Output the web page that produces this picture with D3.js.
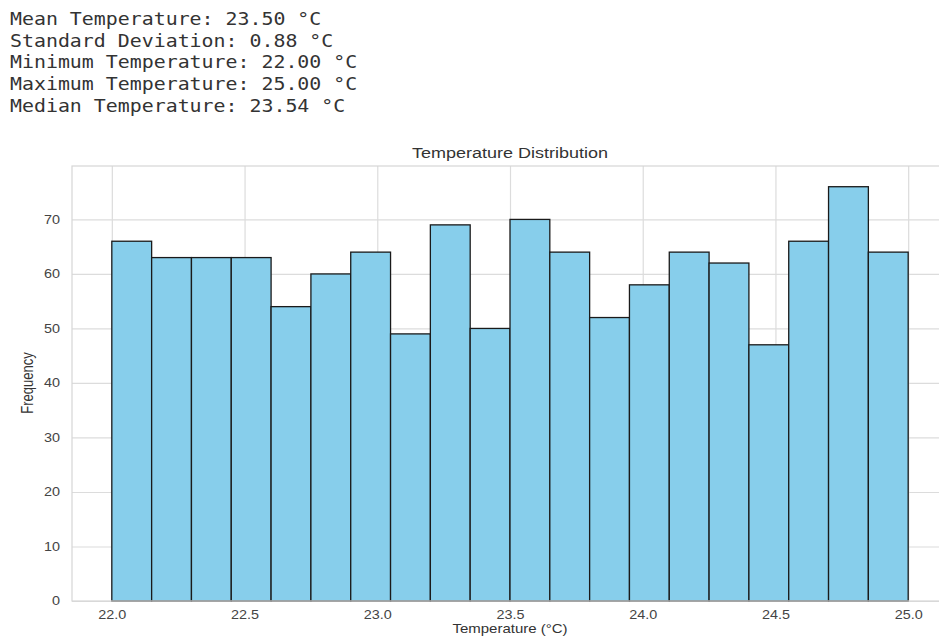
<!DOCTYPE html>
<html>
<head>
<meta charset="utf-8">
<script src="https://cdn.jsdelivr.net/npm/d3@7"></script>
<style>
  body { margin: 0; background: #fff; }
  text { font-family: "Liberation Sans", Arial, sans-serif; }
</style>
</head>
<body>
<div id="chart"></div>
<script>
// summary lines printed above the plot
const statLines = [
  "Mean Temperature: 23.50 °C",
  "Standard Deviation: 0.88 °C",
  "Minimum Temperature: 22.00 °C",
  "Maximum Temperature: 25.00 °C",
  "Median Temperature: 23.54 °C"
];

// histogram: 20 bins from 22.0 to 25.0
const binStart = 22.0;
const binEnd = 25.0;
const counts = [66, 63, 63, 63, 54, 60, 64, 49, 69, 50, 70, 64, 52, 58, 64, 62, 47, 66, 76, 64];
const xTicks = [22.0, 22.5, 23.0, 23.5, 24.0, 24.5, 25.0];
const yTicks = [0, 10, 20, 30, 40, 50, 60, 70];

const W = 939, H = 637;
const margin = { top: 166, right: -9, bottom: 36, left: 72 },
  width = W - margin.left - margin.right,
  height = H - margin.top - margin.bottom;

const stretch = 1.2; // the source image is a bit wider than tall

const root = d3.select("#chart").append("svg")
  .attr("width", W)
  .attr("height", H);

// header text block
const head = root.append("g").attr("transform", "scale(1.17,1)");
head.selectAll("text")
  .data(statLines)
  .join("text")
  .attr("x", 10 / 1.17)
  .attr("y", (d, i) => 25 + i * 21.7)
  .style("font-family", "'DejaVu Sans Mono', 'Liberation Mono', monospace")
  .style("font-size", "17px")
  .attr("fill", "#333")
  .text(d => d);

const svg = root.append("g")
  .attr("transform", `translate(${margin.left}, ${margin.top})`);

const binW = (binEnd - binStart) / counts.length;
const pad = (binEnd - binStart) * 0.05;
const x = d3.scaleLinear().domain([binStart - pad, binEnd + pad]).range([0, width]);
const y = d3.scaleLinear().domain([0, d3.max(counts) * 1.05]).range([height, 0]);

// grid
svg.append("g")
  .attr("transform", `translate(0, ${height})`)
  .call(d3.axisBottom(x).tickValues(xTicks).tickSize(-height).tickFormat(""))
  .call(g => g.select(".domain").remove())
  .call(g => g.selectAll("line").attr("stroke", "#dcdcdc").attr("stroke-width", 1.2));
svg.append("g")
  .call(d3.axisLeft(y).tickValues(yTicks).tickSize(-width).tickFormat(""))
  .call(g => g.select(".domain").remove())
  .call(g => g.selectAll("line").attr("stroke", "#dcdcdc").attr("stroke-width", 1.2));

// bars
svg.append("g")
  .selectAll("rect")
  .data(counts)
  .join("rect")
  .attr("x", (d, i) => x(binStart + i * binW))
  .attr("y", d => y(d))
  .attr("width", (d, i) => x(binStart + (i + 1) * binW) - x(binStart + i * binW))
  .attr("height", d => height - y(d))
  .attr("fill", "#87ceeb")
  .attr("stroke", "#1a1a1a")
  .attr("stroke-width", 1.3);

// spines
svg.append("rect")
  .attr("width", width)
  .attr("height", height)
  .attr("fill", "none")
  .attr("stroke", "#d6d6d6")
  .attr("stroke-width", 1.2);

// tick labels
svg.append("g")
  .attr("transform", `translate(0, ${height})`)
  .call(d3.axisBottom(x).tickValues(xTicks).tickSize(0).tickPadding(9).tickFormat(d3.format(".1f")))
  .call(g => g.select(".domain").remove())
  .call(g => g.selectAll("text")
    .attr("fill", "#444")
    .style("font-size", "12px")
    .attr("transform", `scale(${stretch},1)`));

svg.append("g")
  .call(d3.axisLeft(y).tickValues(yTicks).tickSize(0).tickPadding(10))
  .call(g => g.select(".domain").remove())
  .call(g => g.selectAll("text")
    .attr("fill", "#444")
    .style("font-size", "12px")
    .attr("transform", `scale(${stretch},1)`));

// title and axis labels
root.append("text")
  .attr("transform", `translate(510, 158) scale(${stretch},1)`)
  .attr("text-anchor", "middle")
  .attr("fill", "#333")
  .style("font-size", "15px")
  .text("Temperature Distribution");

root.append("text")
  .attr("transform", `translate(510, 633) scale(${stretch},1)`)
  .attr("text-anchor", "middle")
  .attr("fill", "#333")
  .style("font-size", "12.5px")
  .text("Temperature (°C)");

root.append("text")
  .attr("transform", `translate(33, 383) scale(${stretch},1) rotate(-90)`)
  .attr("text-anchor", "middle")
  .attr("fill", "#333")
  .style("font-size", "13px")
  .text("Frequency");
</script>
</body>
</html>
